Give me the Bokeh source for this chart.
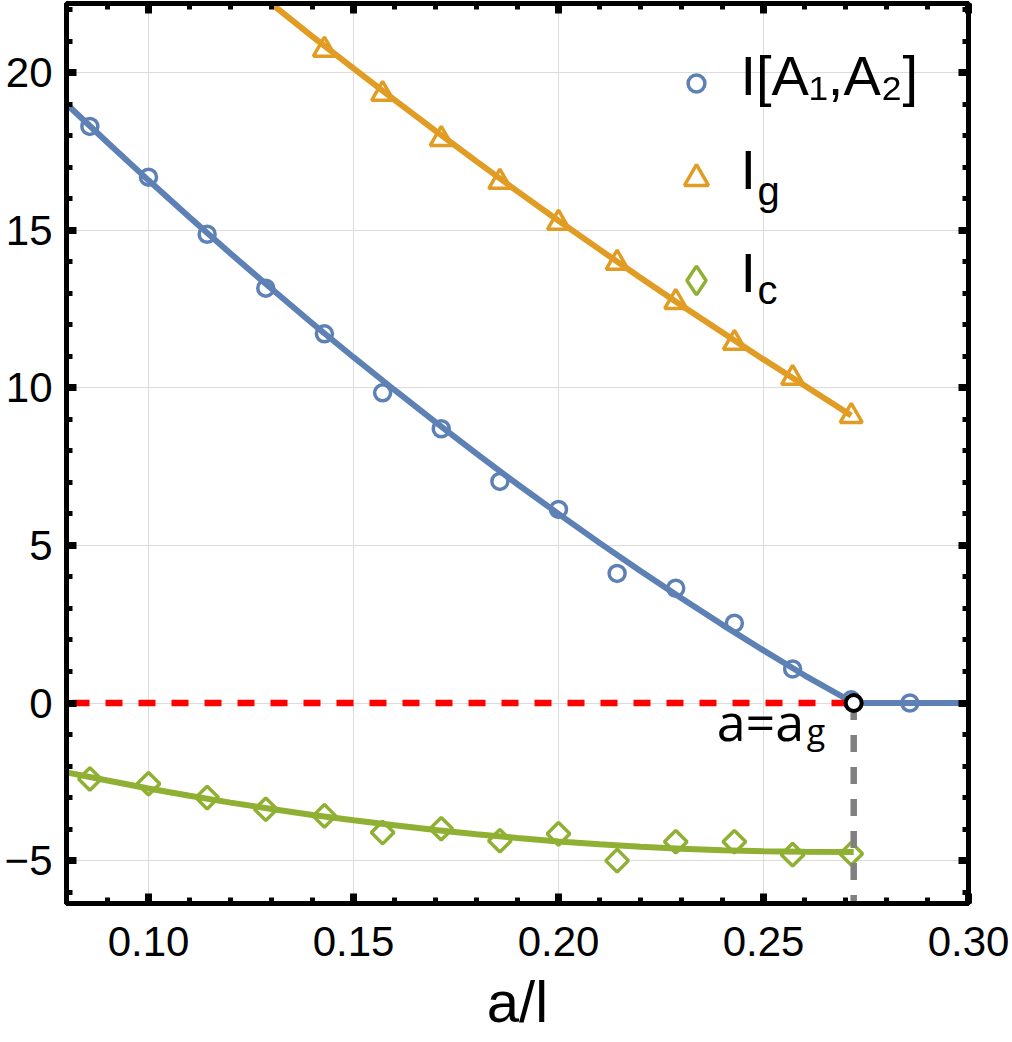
import numpy as np
from bokeh.plotting import figure
from bokeh.models import (LinearAxis, FixedTicker, Range1d, Legend, LegendItem, Label,
                          ColumnDataSource)
from bokeh.embed import file_html
from bokeh.resources import INLINE

# ---------------- data ----------------
x_pts = [0.0857, 0.1000, 0.1143, 0.1286, 0.1429, 0.1571, 0.1714, 0.1857,
         0.2000, 0.2143, 0.2286, 0.2429, 0.2571, 0.2714, 0.2857]
I_A1A2 = [18.29, 16.68, 14.87, 13.16, 11.71, 9.84, 8.70, 7.03,
          6.14, 4.11, 3.64, 2.53, 1.08, 0.10, 0.0]

x_g = [0.1429, 0.1571, 0.1714, 0.1857, 0.2000, 0.2143, 0.2286, 0.2429, 0.2571, 0.2714]
I_g = [20.72, 19.32, 17.89, 16.53, 15.23, 13.96, 12.72, 11.42, 10.31, 9.10]

x_c = [0.0857, 0.1000, 0.1143, 0.1286, 0.1429, 0.1571, 0.1714, 0.1857,
       0.2000, 0.2143, 0.2286, 0.2429, 0.2571, 0.2714]
I_c = [-2.41, -2.56, -3.00, -3.37, -3.58, -4.11, -3.99, -4.37,
       -4.15, -5.00, -4.40, -4.40, -4.81, -4.78]

# fitted curves
fit_A_x = [0.08, 0.09, 0.10, 0.11, 0.12, 0.13, 0.14, 0.15, 0.16, 0.17, 0.18,
           0.19, 0.20, 0.21, 0.22, 0.23, 0.24, 0.25, 0.26, 0.272, 0.30]
fit_A_y = [19.00, 17.78, 16.58, 15.41, 14.26, 13.14, 12.04, 10.97, 9.93, 8.91, 7.91,
           6.94, 6.00, 5.08, 4.19, 3.32, 2.48, 1.67, 0.88, 0.0, 0.0]

fit_g_x = [0.12, 0.13, 0.14, 0.15, 0.16, 0.17, 0.18, 0.19, 0.20, 0.21, 0.22,
           0.23, 0.24, 0.25, 0.26, 0.2714]
fit_g_y = [23.23, 22.18, 21.14, 20.13, 19.13, 18.15, 17.18, 16.23, 15.30, 14.39, 13.49,
           12.61, 11.75, 10.90, 10.07, 9.12]

fit_c_x = [0.08, 0.09, 0.10, 0.11, 0.12, 0.13, 0.14, 0.15, 0.16, 0.17, 0.18,
           0.19, 0.20, 0.21, 0.22, 0.23, 0.24, 0.25, 0.26, 0.272]
fit_c_y = [-2.20, -2.46, -2.71, -2.94, -3.16, -3.36, -3.55, -3.72, -3.88, -4.03, -4.16,
           -4.28, -4.39, -4.48, -4.56, -4.62, -4.67, -4.70, -4.72, -4.73]

a_g = 0.272
zero_level = 0.0

x_ticks = [0.10, 0.15, 0.20, 0.25, 0.30]
x_tick_labels = ["0.10", "0.15", "0.20", "0.25", "0.30"]
y_ticks = [-5, 0, 5, 10, 15, 20]
y_tick_labels = ["\u22125", "0", "5", "10", "15", "20"]

legend_texts = ["I[A\u2081,A\u2082]", "I", "I"]
legend_subs = ["g", "c"]
x_label = "a/l"

# ---------------- styles ----------------
BLUE = "#5E81B5"
ORANGE = "#E19C24"
GREEN = "#8FB032"
RED = "#FF0000"
GRAY = "#808080"
FONT = "Liberation Sans"

X0, X1 = 0.08, 0.30
Y0, Y1 = -6.36, 22.19

p = figure(width=1012, height=1042, x_range=Range1d(X0, X1), y_range=Range1d(Y0, Y1),
           output_backend="svg", toolbar_location=None,
           min_border_left=66, min_border_right=44, min_border_top=3, min_border_bottom=139,
           x_axis_label=x_label)
p.background_fill_color = "white"
p.border_fill_color = "white"
p.outline_line_color = "black"
p.outline_line_width = 5

x_minor = list(np.round(np.arange(0.08, 0.3001, 0.01), 3))
y_minor = list(range(-6, 23))

# grids
p.xgrid.ticker = FixedTicker(ticks=x_ticks)
p.ygrid.ticker = FixedTicker(ticks=y_ticks)
for g in (p.xgrid, p.ygrid):
    g.grid_line_color = "#dcdcdc"
    g.grid_line_width = 1


def style_axis(ax, ticks, minor, labels, show):
    ax.ticker = FixedTicker(ticks=ticks, minor_ticks=minor)
    ax.axis_line_width = 5
    ax.axis_line_color = "black"
    ax.major_tick_in = 10
    ax.major_tick_out = 0
    ax.minor_tick_in = 6
    ax.minor_tick_out = 0
    ax.major_tick_line_width = 7
    ax.minor_tick_line_width = 5
    ax.major_tick_line_color = "black"
    ax.minor_tick_line_color = "black"
    if show:
        ax.major_label_overrides = {t: l for t, l in zip(ticks, labels)}
        ax.major_label_text_font = FONT
        ax.major_label_text_font_size = "42px"
        ax.major_label_text_color = "black"
    else:
        ax.major_label_text_font_size = "0px"
        ax.major_label_text_color = None
        ax.major_label_standoff = 0


xa = p.xaxis[0]
ya = p.yaxis[0]
style_axis(xa, x_ticks, x_minor, x_tick_labels, True)
style_axis(ya, y_ticks, y_minor, y_tick_labels, True)
xa.major_label_standoff = 23
ya.major_label_standoff = 14
xa.axis_label_text_font = FONT
xa.axis_label_text_font_size = "58px"
xa.axis_label_text_font_style = "normal"
xa.axis_label_text_color = "black"
xa.axis_label_text_line_height = 1.0
xa.axis_label_standoff = 10

top = LinearAxis()
style_axis(top, x_ticks, x_minor, x_tick_labels, False)
p.add_layout(top, "above")
right = LinearAxis()
style_axis(right, y_ticks, y_minor, y_tick_labels, False)
p.add_layout(right, "right")

# ---------------- markers ----------------
sA = ColumnDataSource(dict(x=x_pts, y=I_A1A2))
sG = ColumnDataSource(dict(x=x_g, y=I_g))
sC = ColumnDataSource(dict(x=x_c, y=I_c))

rA = p.scatter("x", "y", source=sA, marker="circle", size=16, line_width=3.5,
               line_color=BLUE, fill_color="white")
rG = p.scatter("x", "y", source=sG, marker="triangle", size=22, line_width=3.5,
               line_color=ORANGE, fill_color="white")
rC = p.scatter("x", "y", source=sC, marker="square", angle=np.pi / 4, size=16, line_width=3.5,
               line_color=GREEN, fill_color="white")
# legend-only glyph for the diamond symbol (its single point is NaN, so nothing is drawn)
rC_leg = p.scatter(x=np.array([np.nan]), y=np.array([np.nan]), marker="diamond",
                   line_width=3.5, line_color=GREEN, fill_color="white")

# ---------------- fitted lines ----------------
p.line(fit_A_x, fit_A_y, line_color=BLUE, line_width=6)
p.line(fit_g_x, fit_g_y, line_color=ORANGE, line_width=6)
p.line(fit_c_x, fit_c_y, line_color=GREEN, line_width=6)

# reference lines
p.line([X0, a_g], [zero_level, zero_level], line_color=RED, line_width=6.5,
       line_dash="17 16", line_dash_offset=27)
p.line([a_g, a_g], [zero_level, Y0], line_color=GRAY, line_width=6.5, line_dash="17 15")
p.scatter([a_g], [zero_level], marker="circle", size=16, line_width=4,
          line_color="black", fill_color="white")

p.add_layout(Label(x=a_g, y=zero_level, x_offset=-137, y_offset=-17, text="a=a",
                   text_font="Open Sans", text_font_size="52px", text_color="black",
                   text_baseline="alphabetic"))
p.add_layout(Label(x=a_g, y=zero_level, x_offset=-47, y_offset=-28, text="g",
                   text_font="Open Sans", text_font_size="34px", text_color="black",
                   text_baseline="alphabetic"))

# ---------------- legend: symbols via Legend, texts via Labels ----------------
def add_legend_symbol(renderer, glyph, loc_y):
    lg = Legend(items=[LegendItem(label=" ", renderers=[renderer])],
                location=(630 - glyph // 2, loc_y), glyph_width=glyph, glyph_height=glyph,
                label_standoff=0, label_width=0, padding=0, margin=0,
                border_line_color=None, background_fill_alpha=0,
                label_text_font=FONT, label_text_font_size="8px")
    p.add_layout(lg)


add_legend_symbol(rA, 42, 903 - 83 - 21)
add_legend_symbol(rG, 60, 903 - 178 - 30)
add_legend_symbol(rC_leg, 72, 903 - 280 - 36)

TEXT_X = 674
p.add_layout(Label(x=TEXT_X, y=828, x_units="screen", y_units="screen", text=legend_texts[0],
                   text_font=FONT, text_font_size="56px", text_color="black",
                   text_baseline="alphabetic"))
p.add_layout(Label(x=TEXT_X, y=734, x_units="screen", y_units="screen", text=legend_texts[1],
                   text_font=FONT, text_font_size="56px", text_color="black",
                   text_baseline="alphabetic"))
p.add_layout(Label(x=TEXT_X, y=631, x_units="screen", y_units="screen", text=legend_texts[2],
                   text_font=FONT, text_font_size="56px", text_color="black",
                   text_baseline="alphabetic"))
p.add_layout(Label(x=691, y=713, x_units="screen", y_units="screen", text=legend_subs[0],
                   text_font=FONT, text_font_size="40px", text_color="black",
                   text_baseline="alphabetic"))
p.add_layout(Label(x=691, y=614, x_units="screen", y_units="screen", text=legend_subs[1],
                   text_font=FONT, text_font_size="40px", text_color="black",
                   text_baseline="alphabetic"))

open("out.html", "w").write(file_html(p, INLINE))
